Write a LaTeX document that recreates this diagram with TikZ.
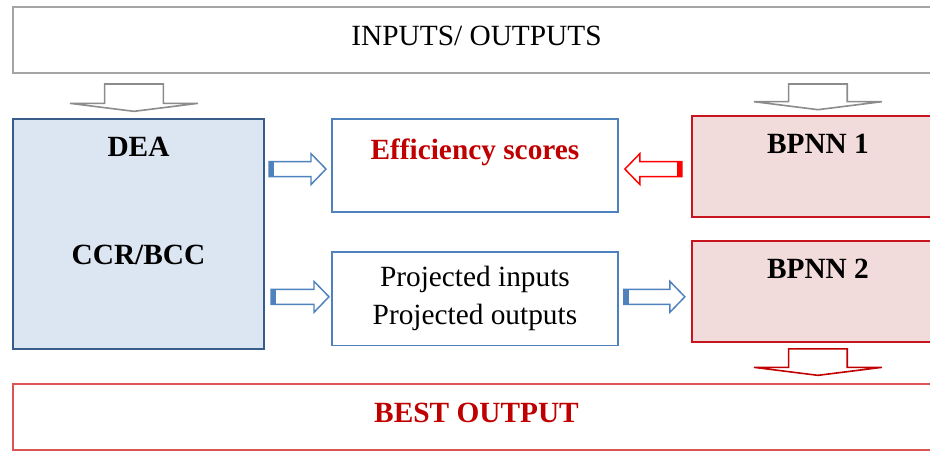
\documentclass[tikz,border=0pt]{standalone}
\usepackage{fontspec}
\setmainfont{Liberation Serif}
\usetikzlibrary{positioning,calc}
\definecolor{iogray}{RGB}{165,165,165}
\definecolor{arrowgray}{RGB}{140,140,140}
\definecolor{deafill}{RGB}{220,230,242}
\definecolor{deaedge}{RGB}{56,93,138}
\definecolor{midblue}{RGB}{79,129,189}
\definecolor{bpfill}{RGB}{242,220,219}
\definecolor{bpedge}{RGB}{200,20,30}
\definecolor{scorered}{RGB}{192,0,0}
\definecolor{bestred}{RGB}{220,85,85}
\definecolor{brightred}{RGB}{255,0,0}
\newcommand{\diagfont}{\fontsize{22}{28.5}\selectfont}
% block arrow with a solid tail, tail -> tip, horizontal
\newcommand{\sidearrow}[3]{%
  \draw[#1, fill=white, line width=1.1pt] let \p1=(#2), \p2=(#3), \n1={sign(\x2-\x1)} in
    (\x1,{\y1-5.6pt}) -- ({\x2-(\n1)*11.25pt},{\y1-5.6pt}) -- ({\x2-(\n1)*11.25pt},{\y1-11.6pt})
    -- (\x2,\y1) -- ({\x2-(\n1)*11.25pt},{\y1+11.6pt}) -- ({\x2-(\n1)*11.25pt},{\y1+5.6pt})
    -- (\x1,{\y1+5.6pt}) -- cycle;
  \fill[#1] let \p1=(#2), \p2=(#3), \n1={sign(\x2-\x1)} in
    (\x1,{\y1-5.6pt}) rectangle ({\x1+(\n1)*3.75pt},{\y1+5.6pt});}
% wide flat arrow pointing down
\newcommand{\droparrow}[3]{%
  \draw[#1, fill=white, line width=1.2pt] let \p1=(#2), \p2=(#3) in
    ({\x1-22pt},\y1) -- ({\x1-22pt},{\y2+6pt}) -- ({\x1-48pt},{\y2+6pt}) -- (\x1,\y2)
    -- ({\x1+48pt},{\y2+6pt}) -- ({\x1+22pt},{\y2+6pt}) -- ({\x1+22pt},\y1) -- cycle;}
\tikzset{
  widebox/.style={draw=iogray, line width=1.5pt, minimum width=695.25pt, minimum height=49.5pt, text depth=6pt},
  deabox/.style={draw=deaedge, fill=deafill, line width=1.5pt, minimum width=188.25pt, minimum height=172.5pt,
    font=\diagfont\bfseries, text depth=130.5pt},
  midbox/.style={draw=midblue, line width=1.4pt, minimum width=214.5pt, minimum height=70pt},
  bpbox/.style={draw=bpedge, fill=bpfill, line width=1.6pt, minimum width=189pt, minimum height=75.75pt,
    font=\diagfont\bfseries, text depth=33.5pt}
}
\begin{document}
\begin{tikzpicture}[x=0.75pt, y=-0.75pt, font=\diagfont]
  \useasboundingbox (0,0) rectangle (930,450);
  \clip (0,0) rectangle (930,450);

  \node[widebox] (io) at (476.5,40) {INPUTS/ OUTPUTS};
  \node[deabox, label={[font=\diagfont\bfseries, anchor=center, yshift=-15.75pt]center:CCR/BCC}] (dea)
    [below right=33pt and 0pt of io.south west] {DEA};

  \node[midbox, font=\diagfont\bfseries, text=scorered, text depth=25pt] (eff)
    [right=49.5pt of dea.north east, anchor=north west] {Efficiency scores};
  \node[midbox, align=center] (proj) [below=28.5pt of eff] {Projected inputs\\Projected outputs};

  \node[bpbox] (bp1) [right=54pt of eff.north east, anchor=north west, yshift=2.5pt] {BPNN 1};
  \node[bpbox] (bp2) [below=16.5pt of bp1] {BPNN 2};

  \node[widebox, draw=bestred, font=\diagfont\bfseries, text=scorered, minimum height=49.5pt, text depth=7.5pt] (best)
    [below=25pt of dea.south west, anchor=north west] {BEST OUTPUT};

  \droparrow{arrowgray}{$(io.south -| dea.north)+(-3.4pt,-7.5pt)$}{$(dea.north)+(-3.4pt,5pt)$}
  \droparrow{arrowgray}{$(io.south -| bp1.north)+(0,-7.5pt)$}{$(bp1.north)+(0,3.75pt)$}
  \droparrow{scorered}{$(bp2.south)+(0,-4.5pt)$}{$(best.north -| bp2.south)+(0,6pt)$}

  \sidearrow{midblue}{$(dea.east |- eff.west)+(3pt,-2.6pt)$}{$(eff.west)+(-3.75pt,-2.6pt)$}
  \sidearrow{midblue}{$(dea.east |- proj.west)+(4.5pt,1.5pt)$}{$(proj.west)+(-1.5pt,1.5pt)$}
  \sidearrow{midblue}{$(proj.east)+(3.75pt,1.5pt)$}{$(bp2.west |- proj.east)+(-4.5pt,1.5pt)$}
  \sidearrow{brightred}{$(bp1.west |- eff.east)+(-6.75pt,-2.6pt)$}{$(eff.east)+(4.5pt,-2.6pt)$}
\end{tikzpicture}
\end{document}
